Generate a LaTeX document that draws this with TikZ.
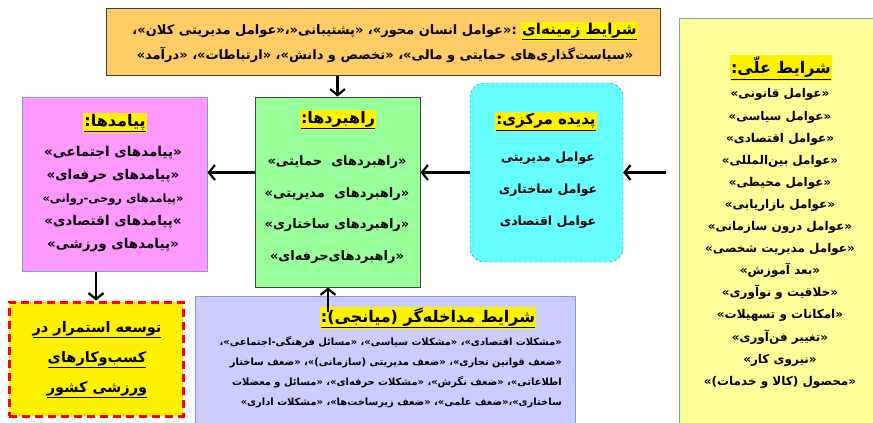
\documentclass[tikz,border=0pt]{standalone}
\usepackage{fontspec}
\newfontfamily\farsi[Script=Arabic]{DejaVu Sans}
\TeXXeTstate=1
\usetikzlibrary{arrows.meta,positioning}

\definecolor{orangefill}{HTML}{FFCC66}
\definecolor{yellowfill}{HTML}{FFFF99}
\definecolor{cyanfill}{HTML}{66FFFF}
\definecolor{greenfill}{HTML}{99FF99}
\definecolor{pinkfill}{HTML}{FF99FF}
\definecolor{lavfill}{HTML}{CCCCFF}
\definecolor{blueline}{HTML}{7F9FD0}

\newcommand\fa[1]{\beginR#1\endR}
\newcommand\hl[1]{{\setlength\fboxsep{1pt}\colorbox{yellow}{\bfseries\underline{\fa{#1}}}}}

\begin{document}
\begin{tikzpicture}[x=1pt,y=-1pt,
                    arr/.style={line width=2.5pt,-{Straight Barb[length=6pt,width=15pt,line width=2.2pt]}},
                    box/.style={draw,minimum width=#1,inner sep=0pt}]
  \tikzstyle{every node}=[font=\farsi]
  \tikzstyle{txt}=[align=center,inner sep=0pt]

  \useasboundingbox (0,0) rectangle (873,423);

  % boxes
  \node[box=554pt, minimum height=67pt, fill=orangefill, draw=black!75, line width=1pt] (ctx) at (383,41.5) {};
  \node[box=201pt, minimum height=412pt, fill=yellowfill, draw=blueline, line width=1pt] (causal) at (779.5,224) {};
  \node[box=153pt, minimum height=179pt, fill=cyanfill, draw=black!60, densely dashed, rounded corners=14pt] (core) at (546.5,172.5) {};
  \node[box=165pt, minimum height=190pt, fill=greenfill, draw=black!75, line width=1pt] (strat) at (337.5,192) {};
  \node[box=185pt, minimum height=174pt, fill=pinkfill, draw=blueline, line width=1pt] (cons) at (114.5,184) {};
  \node[box=174pt, minimum height=114pt, fill=yellow, draw=red, line width=3pt, dash pattern=on 8pt off 5pt] (goal) at (96,359) {};
  \node[box=380pt, minimum height=134pt, fill=lavfill, draw=blueline, line width=1pt] (interv) at (385,363) {};

  % texts
  \node[txt, font=\farsi\bfseries\fontsize{13}{25}\selectfont] (ctxT) at (385,42.5)
    {\fa{:«عوامل انسان محور»، «پشتیبانی«،«عوامل مدیریتی کلان»،}\ {\fontsize{15}{25}\selectfont\hl{شرایط زمینه‌ای}}\\
     \fa{«سیاست‌گذاری‌های حمایتی و مالی»، «تخصص و دانش»، «ارتباطات»، «درآمد»}};

  \node[txt, font=\farsi\fontsize{16}{18}\selectfont] (causalT) at (781,68) {\hl{شرایط علّی:}};
  \node[txt, font=\farsi\bfseries\fontsize{12}{22.1}\selectfont] (causalL) at (780,238.5)
    {\fa{«عوامل قانونی»}\\ \fa{«عوامل سیاسی»}\\ \fa{«عوامل اقتصادی»}\\ \fa{«عوامل بین‌المللی»}\\
     \fa{«عوامل محیطی»}\\ \fa{«عوامل بازاریابی»}\\ \fa{«عوامل درون سازمانی»}\\ \fa{«عوامل مدیریت شخصی»}\\
     \fa{«بعد آموزش»}\\ \fa{«خلاقیت و نوآوری»}\\ \fa{«امکانات و تسهیلات»}\\ \fa{«تغییر فن‌آوری»}\\
     \fa{«نیروی کار»}\\ \fa{«محصول (کالا و خدمات)»}};

  \node[txt, font=\farsi\fontsize{15}{18}\selectfont] (coreT) at (546,122) {\hl{پدیده مرکزی:}};
  \node[txt, font=\farsi\bfseries\fontsize{12.5}{32}\selectfont] (coreL) at (548,190)
    {\fa{عوامل مدیریتی}\\ \fa{عوامل ساختاری}\\ \fa{عوامل اقتصادی}};

  \node[txt, font=\farsi\fontsize{16}{18}\selectfont] (stratT) at (338,120) {\hl{راهبردها:}};
  \node[txt, font=\farsi\bfseries\fontsize{13}{31.7}\selectfont] (stratL) at (337,209.5)
    {\fa{«راهبردهای\ \ حمایتی»}\\ \fa{«راهبردهای\ \ مدیریتی»}\\ \fa{«راهبردهای ساختاری»}\\ \fa{«راهبردهای‌حرفه‌ای»}};

  \node[txt, font=\farsi\fontsize{16}{18}\selectfont] (consT) at (115,123) {\hl{پیامدها:}};
  \node[txt, font=\farsi\bfseries\fontsize{13.5}{23}\selectfont] (consL) at (113,199)
    {\fa{«پیامدهای اجتماعی»}\\ \fa{«پیامدهای حرفه‌ای»}\\ {\fontsize{11.5}{23}\selectfont\fa{«پیامدهای روحی-روانی»}}\\
     \fa{»پیامدهای اقتصادی»}\\ \fa{«پیامدهای ورزشی»}};

  \node[txt, font=\farsi\bfseries\fontsize{14.5}{30}\selectfont] (goalT) at (97,360)
    {\underline{\fa{توسعه استمرار در}}\\ \underline{\fa{کسب‌وکارهای}}\\ \underline{\fa{ورزشی کشور}}};

  \node[txt, font=\farsi\fontsize{16}{18}\selectfont] (intervT) at (428,318) {\hl{شرایط مداخله‌گر (میانجی):}};
  \node[txt, align=right, anchor=east, font=\farsi\bfseries\fontsize{9.9}{20}\selectfont] (intervL) at (562,372)
    {\fa{«مشکلات اقتصادی»، «مشکلات سیاسی»، «مسائل فرهنگی-اجتماعی»،}\\
     \fa{«ضعف قوانین تجاری»، «ضعف مدیریتی (سازمانی)»، «ضعف ساختار}\\
     \fa{اطلاعاتی»، «ضعف نگرش»، «مشکلات حرفه‌ای»، «مسائل و معضلات}\\
     \fa{ساختاری»،«ضعف علمی»، «ضعف زیرساخت‌ها»، «مشکلات اداری»}};

  % arrows
  \coordinate (ivtop) at (328,312);
  \draw[arr, shorten <=13pt] (causal.west |- core.east) -- (core.east);
  \draw[arr] (core.west) -- (core.west -| strat.east);
  \draw[arr] (strat.west |- core.west) -- (cons.east |- core.west);
  \draw[arr] (ctx.south -| strat.north) -- (strat.north);
  \draw[arr] (ivtop) -- (ivtop |- strat.south);
  \draw[arr] (goal.north |- cons.south) -- (goal.north);
\end{tikzpicture}
\end{document}
